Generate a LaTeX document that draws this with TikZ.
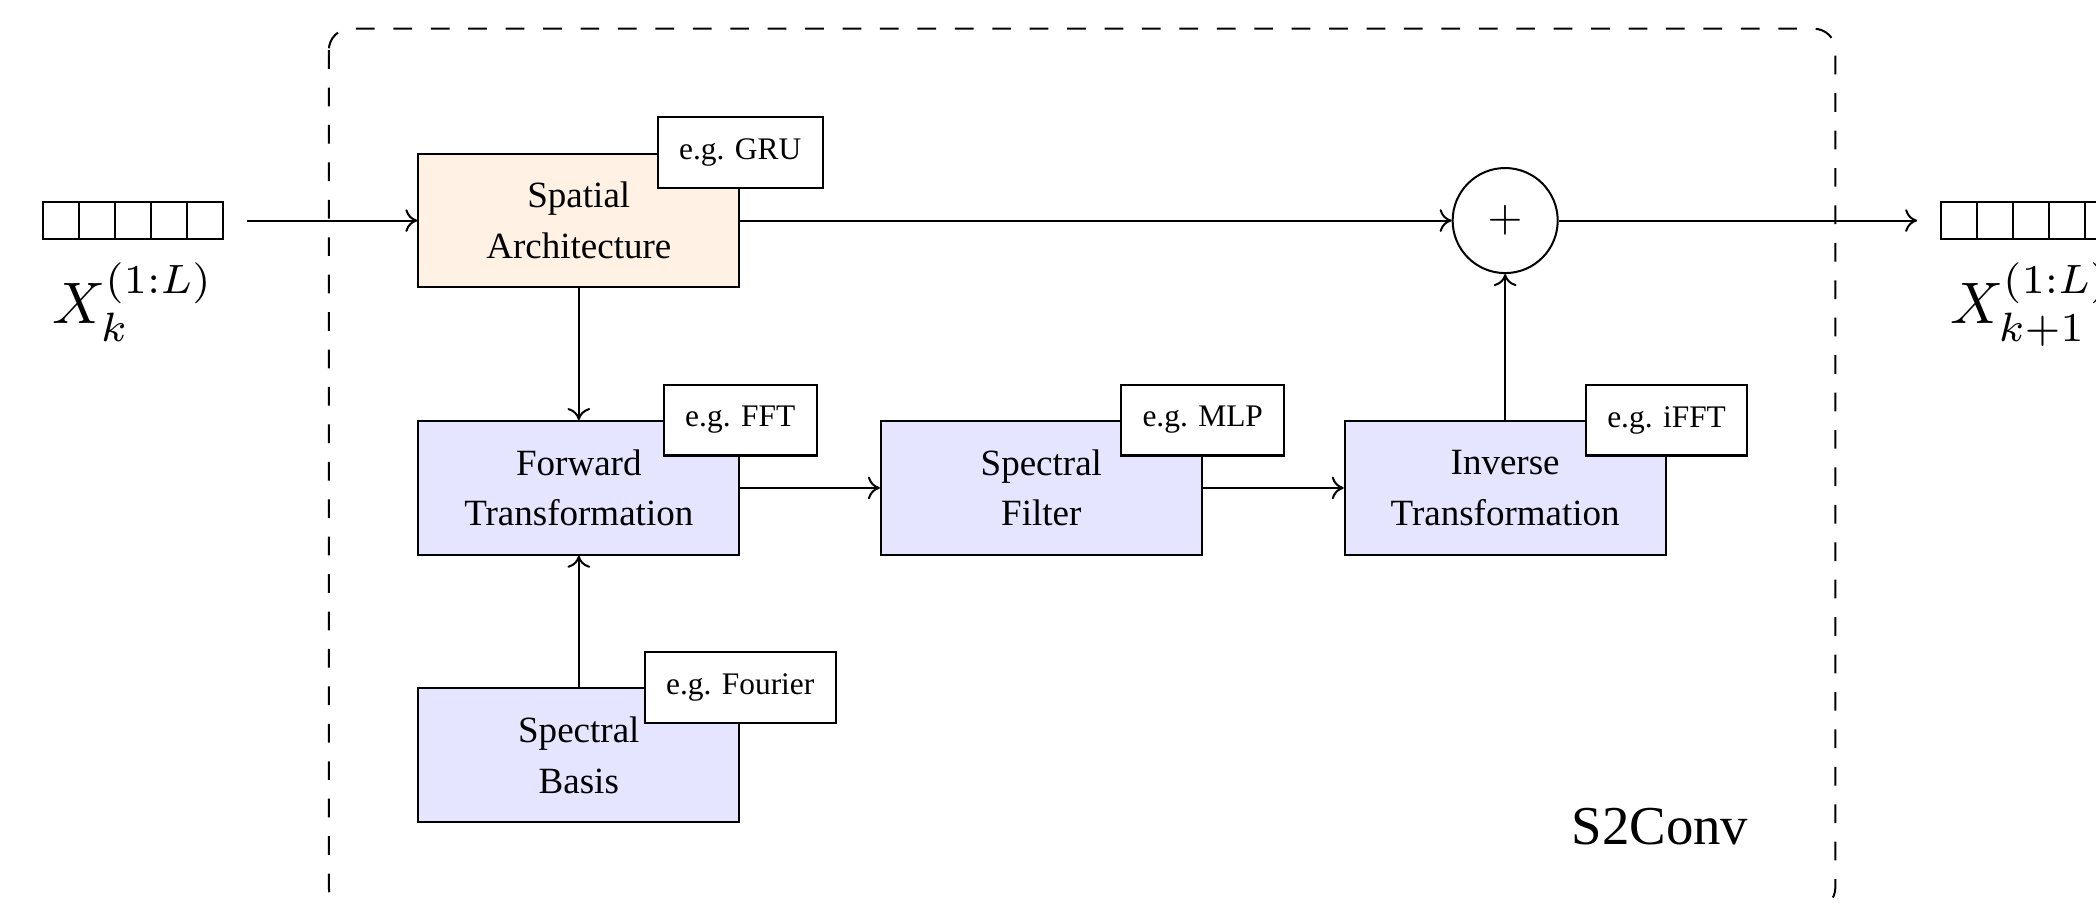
\documentclass[tikz,border=0pt]{standalone}
\usepackage{fontspec}
\setmainfont{Liberation Serif}
\usetikzlibrary{arrows.meta,calc}
\begin{document}
\begin{tikzpicture}[x=1pt,y=-1pt,
  line width=1.5pt,
  blk/.style={draw, minimum width=240pt, minimum height=100pt, inner sep=0pt, align=center, font=\fontsize{27.7}{38}\selectfont},
  sblk/.style={blk, fill=blue!10},
  oblk/.style={blk, fill=orange!10},
  eg/.style={draw, fill=white, minimum height=53pt, inner xsep=16pt, inner ysep=0pt, font=\fontsize{23.5}{28}\selectfont},
  arr/.style={-{To[length=9pt,width=17pt]}},
  vec/.style={draw, minimum width=134.5pt, minimum height=27.3pt, inner sep=0pt,
    path picture={\foreach \i in {1,2,3,4}{\draw ($(path picture bounding box.south west)!\i/5!(path picture bounding box.south east)$) -- ($(path picture bounding box.north west)!\i/5!(path picture bounding box.north east)$);}}},
  mathlbl/.style={anchor=base, inner sep=0pt}
]
\useasboundingbox (0,0) rectangle (1568,677);
\clip (0,0) rectangle (1568,677);

% frame
\draw[dash pattern=on 14pt off 14pt, rounded corners=16pt] (246,21.5) rectangle (1373,680);

% vectors
\node[vec] (in) at (99.5,165) {};
\node[vec] (out) at (1519.2,165) {};
\node[mathlbl] (xin) at ($(in.center)+(0,77)$) {\scalebox{4.38}{$X_k^{(1:L)}$}};
\node[mathlbl] (xout) at ($(out.center)+(0,77)$) {\scalebox{4.38}{$X_{k+1}^{(1:L)}$}};

% blocks
\node[oblk] (sp) at (433,165) {Spatial\\Architecture};
\node[sblk] (fw) at (433,365) {Forward\\Transformation};
\node[sblk] (sf) at (779,365) {Spectral\\Filter};
\node[sblk] (inv) at (1126,365) {Inverse\\Transformation};
\node[sblk] (bas) at (433,565) {Spectral\\Basis};
\node[draw, circle, minimum size=78.6pt, inner sep=0pt] (plus) at (1126,165) {\scalebox{3.36}{$+$}};

% example tags
\node[eg] (egsp) at (sp.north east) {e.g. GRU};
\node[eg] (egfw) at (fw.north east) {e.g. FFT};
\node[eg] (egsf) at (sf.north east) {e.g. MLP};
\node[eg] (eginv) at (inv.north east) {e.g. iFFT};
\node[eg] (egbas) at (bas.north east) {e.g. Fourier};

\node[font=\fontsize{41}{48}\selectfont, anchor=base west, inner sep=0pt] (name) at (1175,632) {S2Conv};

% connectors
\draw[arr, shorten <=17.5pt] (in) -- (sp);
\draw[arr] (sp) -- (plus);
\draw[arr, shorten >=17pt] (plus) -- (out);
\draw[arr] (sp) -- (fw);
\draw[arr] (bas) -- (fw);
\draw[arr] (fw) -- (sf);
\draw[arr] (sf) -- (inv);
\draw[arr] (inv) -- (plus);
\end{tikzpicture}
\end{document}
